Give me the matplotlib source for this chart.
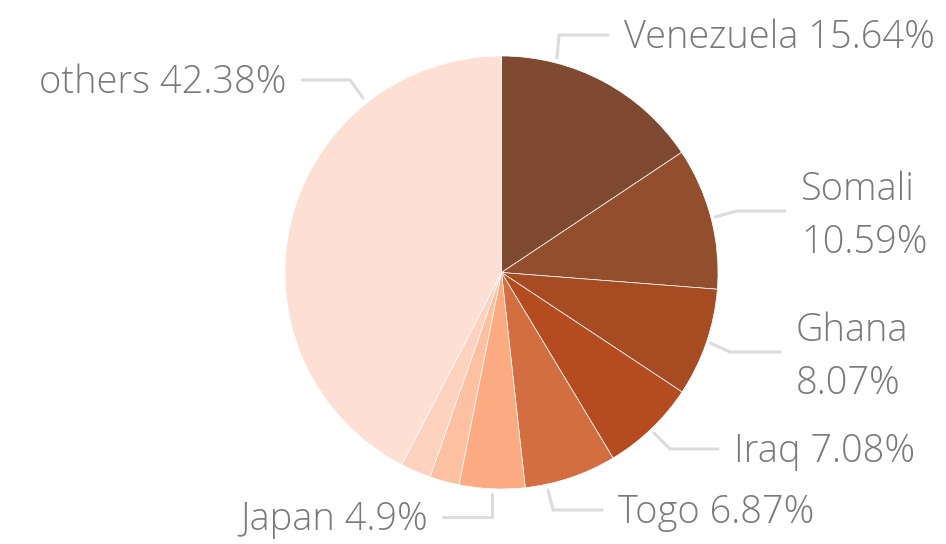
import matplotlib
matplotlib.use("Agg")
import matplotlib.pyplot as plt
from matplotlib import font_manager as fm

# ---- data ----
countries = ["Venezuela", "Somali", "Ghana", "Iraq", "Togo", "Japan", "", "", "others"]
shares = [15.64, 10.59, 8.07, 7.08, 6.87, 4.9, 2.2, 2.27, 42.38]
colors = ["#7f4a31", "#934e2d", "#a64b22", "#b54c1f", "#d36e40",
          "#fcaa82", "#fdc0a0", "#fdd3c0", "#fddfd3"]
two_line = {"Somali", "Ghana"}

# ---- layout (pixel coords, y down) ----
W, H = 946, 544
CX, CY, R = 501.5, 272.5, 216.5
# leader polyline and label anchor per labelled slice
layout = {
    "Venezuela": ([(557, 58), (559, 35), (608, 35)], (624, 38), "left"),
    "Somali":    ([(715, 217), (737, 211), (785, 211)], (801, 216), "left"),
    "Ghana":     ([(710, 343), (730, 352), (780, 352)], (796, 357), "left"),
    "Iraq":      ([(654, 433), (670, 449), (718, 449)], (734, 452), "left"),
    "Togo":      ([(548, 490), (553, 510), (602, 510)], (618, 513), "left"),
    "Japan":     ([(492, 494), (492, 517), (443, 517)], (428, 520), "right"),
    "others":    ([(363, 98), (350, 80), (302, 80)], (286, 83), "right"),
}

def pick_family():
    for fam in ["Open Sans", "Noto Sans", "Lato", "Roboto"]:
        for f in fm.fontManager.ttflist:
            w = f.weight
            if isinstance(w, str):
                w = fm.weight_dict.get(w, 400)
            if f.name == fam and w <= 300:
                return fam
    return "Open Sans"

FAM = pick_family()

fig = plt.figure(figsize=(W / 100, H / 100), dpi=100)
ax = fig.add_axes([0, 0, 1, 1])
ax.pie(shares, colors=colors, startangle=90, counterclock=False,
       center=(CX, H - CY), radius=R,
       wedgeprops=dict(edgecolor="white", linewidth=0.5))
ax.set_xlim(0, W)
ax.set_ylim(0, H)
ax.set_aspect("equal")
ax.axis("off")

# determine font size from reference width of the Venezuela label (312 px)
probe = ax.text(0, 0, "Venezuela 15.64%", fontsize=24, family=FAM, fontweight="light")
fig.canvas.draw()
wpx = probe.get_window_extent().width
probe.remove()
FS = 24 * 312 / wpx

for name, val in zip(countries, shares):
    if name not in layout:
        continue
    pts, (tx, ty), ha = layout[name]
    ax.plot([p[0] for p in pts], [H - p[1] for p in pts], color="#dcdcdc",
            lw=2.2, solid_capstyle="round", solid_joinstyle="miter")
    sep = "\n" if name in two_line else " "
    ax.text(tx, H - ty, f"{name}{sep}{val:g}%", ha=ha, va="center",
            fontsize=FS, family=FAM, fontweight="light", color="#7a7a7a",
            linespacing=1.5)

fig.savefig("out.png", dpi=100)
